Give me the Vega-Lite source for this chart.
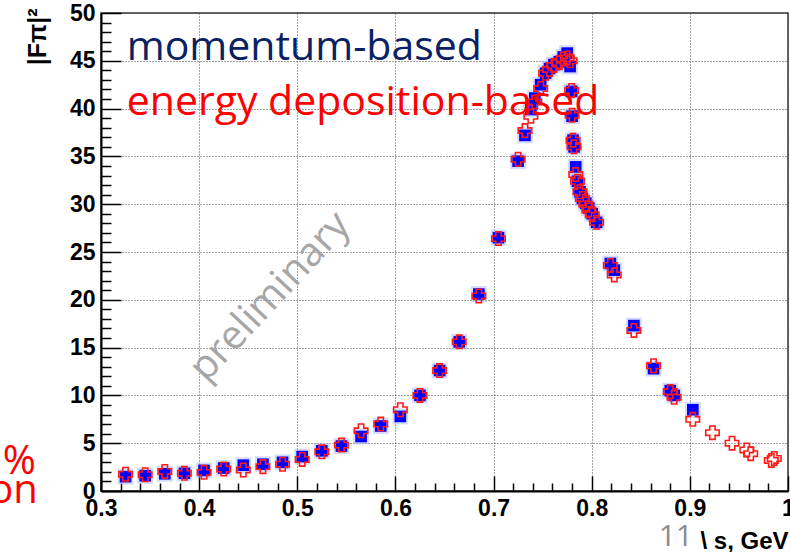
{
  "$schema": "https://vega.github.io/schema/vega-lite/v6.json",
  "width": 687,
  "height": 478,
  "autosize": {"type": "none"},
  "padding": {"left": 101, "top": 13, "right": 2, "bottom": 61},
  "background": "white",
  "config": {"view": {"stroke": "#333333", "strokeWidth": 1.5}},
  "datasets": {
    "points": [
      {"s": 0.325, "F2": 1.5, "method": "momentum"},
      {"s": 0.345, "F2": 1.6, "method": "momentum"},
      {"s": 0.365, "F2": 1.8, "method": "momentum"},
      {"s": 0.385, "F2": 1.85, "method": "momentum"},
      {"s": 0.405, "F2": 2.15, "method": "momentum"},
      {"s": 0.425, "F2": 2.4, "method": "momentum"},
      {"s": 0.445, "F2": 2.7, "method": "momentum"},
      {"s": 0.465, "F2": 2.8, "method": "momentum"},
      {"s": 0.485, "F2": 3.0, "method": "momentum"},
      {"s": 0.505, "F2": 3.6, "method": "momentum"},
      {"s": 0.525, "F2": 4.2, "method": "momentum"},
      {"s": 0.545, "F2": 4.7, "method": "momentum"},
      {"s": 0.565, "F2": 5.7, "method": "momentum"},
      {"s": 0.585, "F2": 6.8, "method": "momentum"},
      {"s": 0.605, "F2": 7.8, "method": "momentum"},
      {"s": 0.625, "F2": 10.0, "method": "momentum"},
      {"s": 0.645, "F2": 12.6, "method": "momentum"},
      {"s": 0.665, "F2": 15.6, "method": "momentum"},
      {"s": 0.685, "F2": 20.6, "method": "momentum"},
      {"s": 0.705, "F2": 26.5, "method": "momentum"},
      {"s": 0.725, "F2": 34.5, "method": "momentum"},
      {"s": 0.732, "F2": 37.2, "method": "momentum"},
      {"s": 0.738, "F2": 39.9, "method": "momentum"},
      {"s": 0.742, "F2": 41.1, "method": "momentum"},
      {"s": 0.748, "F2": 42.5, "method": "momentum"},
      {"s": 0.753, "F2": 43.7, "method": "momentum"},
      {"s": 0.757, "F2": 44.2, "method": "momentum"},
      {"s": 0.7615, "F2": 44.6, "method": "momentum"},
      {"s": 0.767, "F2": 44.9, "method": "momentum"},
      {"s": 0.771, "F2": 45.4, "method": "momentum"},
      {"s": 0.775, "F2": 45.8, "method": "momentum"},
      {"s": 0.778, "F2": 44.4, "method": "momentum"},
      {"s": 0.7795, "F2": 41.8, "method": "momentum"},
      {"s": 0.78, "F2": 39.2, "method": "momentum"},
      {"s": 0.781, "F2": 36.7, "method": "momentum"},
      {"s": 0.782, "F2": 36.0, "method": "momentum"},
      {"s": 0.7837, "F2": 33.9, "method": "momentum"},
      {"s": 0.7855, "F2": 32.4, "method": "momentum"},
      {"s": 0.788, "F2": 31.3, "method": "momentum"},
      {"s": 0.7905, "F2": 30.6, "method": "momentum"},
      {"s": 0.794, "F2": 30.1, "method": "momentum"},
      {"s": 0.797, "F2": 29.6, "method": "momentum"},
      {"s": 0.8005, "F2": 29.0, "method": "momentum"},
      {"s": 0.805, "F2": 28.1, "method": "momentum"},
      {"s": 0.819, "F2": 23.8, "method": "momentum"},
      {"s": 0.823, "F2": 23.1, "method": "momentum"},
      {"s": 0.843, "F2": 17.3, "method": "momentum"},
      {"s": 0.863, "F2": 12.8, "method": "momentum"},
      {"s": 0.88, "F2": 10.5, "method": "momentum"},
      {"s": 0.884, "F2": 10.0, "method": "momentum"},
      {"s": 0.903, "F2": 8.5, "method": "momentum"},
      {"s": 0.325, "F2": 1.75, "method": "edep"},
      {"s": 0.345, "F2": 1.7, "method": "edep"},
      {"s": 0.365, "F2": 2.05, "method": "edep"},
      {"s": 0.385, "F2": 1.85, "method": "edep"},
      {"s": 0.405, "F2": 1.95, "method": "edep"},
      {"s": 0.425, "F2": 2.3, "method": "edep"},
      {"s": 0.445, "F2": 2.2, "method": "edep"},
      {"s": 0.465, "F2": 2.55, "method": "edep"},
      {"s": 0.485, "F2": 2.8, "method": "edep"},
      {"s": 0.505, "F2": 3.3, "method": "edep"},
      {"s": 0.525, "F2": 4.1, "method": "edep"},
      {"s": 0.545, "F2": 4.8, "method": "edep"},
      {"s": 0.565, "F2": 6.3, "method": "edep"},
      {"s": 0.585, "F2": 7.0, "method": "edep"},
      {"s": 0.605, "F2": 8.5, "method": "edep"},
      {"s": 0.625, "F2": 10.0, "method": "edep"},
      {"s": 0.645, "F2": 12.6, "method": "edep"},
      {"s": 0.665, "F2": 15.6, "method": "edep"},
      {"s": 0.685, "F2": 20.4, "method": "edep"},
      {"s": 0.705, "F2": 26.4, "method": "edep"},
      {"s": 0.725, "F2": 34.7, "method": "edep"},
      {"s": 0.732, "F2": 37.7, "method": "edep"},
      {"s": 0.738, "F2": 39.2, "method": "edep"},
      {"s": 0.742, "F2": 40.7, "method": "edep"},
      {"s": 0.748, "F2": 42.1, "method": "edep"},
      {"s": 0.753, "F2": 43.7, "method": "edep"},
      {"s": 0.757, "F2": 44.1, "method": "edep"},
      {"s": 0.7615, "F2": 44.5, "method": "edep"},
      {"s": 0.767, "F2": 44.8, "method": "edep"},
      {"s": 0.771, "F2": 45.2, "method": "edep"},
      {"s": 0.775, "F2": 45.3, "method": "edep"},
      {"s": 0.778, "F2": 45.0, "method": "edep"},
      {"s": 0.7795, "F2": 41.9, "method": "edep"},
      {"s": 0.78, "F2": 39.3, "method": "edep"},
      {"s": 0.781, "F2": 36.7, "method": "edep"},
      {"s": 0.782, "F2": 36.0, "method": "edep"},
      {"s": 0.7837, "F2": 33.1, "method": "edep"},
      {"s": 0.7855, "F2": 32.4, "method": "edep"},
      {"s": 0.788, "F2": 31.3, "method": "edep"},
      {"s": 0.7905, "F2": 30.6, "method": "edep"},
      {"s": 0.794, "F2": 30.0, "method": "edep"},
      {"s": 0.797, "F2": 29.4, "method": "edep"},
      {"s": 0.8005, "F2": 28.9, "method": "edep"},
      {"s": 0.805, "F2": 28.1, "method": "edep"},
      {"s": 0.819, "F2": 23.6, "method": "edep"},
      {"s": 0.823, "F2": 22.6, "method": "edep"},
      {"s": 0.843, "F2": 16.8, "method": "edep"},
      {"s": 0.863, "F2": 13.1, "method": "edep"},
      {"s": 0.88, "F2": 10.4, "method": "edep"},
      {"s": 0.884, "F2": 9.8, "method": "edep"},
      {"s": 0.903, "F2": 7.5, "method": "edep"},
      {"s": 0.923, "F2": 6.1, "method": "edep"},
      {"s": 0.943, "F2": 5.0, "method": "edep"},
      {"s": 0.958, "F2": 4.3, "method": "edep"},
      {"s": 0.962, "F2": 3.9, "method": "edep"},
      {"s": 0.983, "F2": 3.2, "method": "edep"},
      {"s": 0.986, "F2": 3.4, "method": "edep"}
    ]
  },
  "encoding": {
    "x": {
      "field": "s",
      "type": "quantitative",
      "scale": {"domain": [0.3, 1.0], "nice": false, "zero": false},
      "axis": {
        "values": [0.3, 0.32, 0.34, 0.36, 0.38, 0.4, 0.42, 0.44, 0.46, 0.48, 0.5, 0.52, 0.54, 0.56, 0.58, 0.6, 0.62, 0.64, 0.66, 0.68, 0.7, 0.72, 0.74, 0.76, 0.78, 0.8, 0.82, 0.84, 0.86, 0.88, 0.9, 0.92, 0.94, 0.96, 0.98, 1.0],
        "labelExpr": "abs(datum.value * 10 - round(datum.value * 10)) < 0.001 ? format(datum.value, '.1~f') : ''",
        "labelFont": "Liberation Sans",
        "labelFontWeight": "bold",
        "labelFontSize": 23,
        "labelColor": "black",
        "labelPadding": 21,
        "labelFlush": false,
        "labelOverlap": false,
        "labelBound": false,
        "domainColor": "black",
        "domainWidth": 2,
        "tickColor": "black",
        "tickWidth": 1.5,
        "tickSize": {"condition": {"test": "abs(datum.value * 10 - round(datum.value * 10)) < 0.001", "value": -15}, "value": -8},
        "grid": true,
        "gridColor": "#444444",
        "gridDash": [1, 2],
        "gridWidth": 1,
        "gridOpacity": {"condition": {"test": "abs(datum.value * 10 - round(datum.value * 10)) < 0.001", "value": 1}, "value": 0},
        "title": "\\ s, GeV",
        "titleFont": "Liberation Sans",
        "titleFontWeight": "bold",
        "titleFontSize": 24,
        "titleColor": "black",
        "titleAlign": "right",
        "titleBaseline": "alphabetic",
        "titleX": 687,
        "titleY": 57
      }
    },
    "y": {
      "field": "F2",
      "type": "quantitative",
      "scale": {"domain": [0, 50], "nice": false, "zero": false},
      "axis": {
        "values": [0, 1, 2, 3, 4, 5, 6, 7, 8, 9, 10, 11, 12, 13, 14, 15, 16, 17, 18, 19, 20, 21, 22, 23, 24, 25, 26, 27, 28, 29, 30, 31, 32, 33, 34, 35, 36, 37, 38, 39, 40, 41, 42, 43, 44, 45, 46, 47, 48, 49, 50],
        "labelExpr": "datum.value % 5 === 0 ? format(datum.value, 'd') : ''",
        "labelFont": "Liberation Sans",
        "labelFontWeight": "bold",
        "labelFontSize": 23,
        "labelColor": "black",
        "labelPadding": 26,
        "labelFlush": false,
        "labelOverlap": false,
        "labelBound": false,
        "domainColor": "black",
        "domainWidth": 2,
        "tickColor": "black",
        "tickWidth": 1.5,
        "tickSize": {"condition": {"test": "datum.value % 5 === 0", "value": -20}, "value": -10},
        "grid": true,
        "gridColor": "#444444",
        "gridDash": [1, 2],
        "gridWidth": 1,
        "gridOpacity": {"condition": {"test": "datum.value % 5 === 0", "value": 1}, "value": 0},
        "title": "|Fπ|²",
        "titleFont": "Liberation Sans",
        "titleFontWeight": "bold",
        "titleFontSize": 25,
        "titleColor": "black",
        "titleAngle": -90,
        "titleAlign": "right",
        "titleBaseline": "alphabetic",
        "titleX": -56,
        "titleY": -5
      }
    }
  },
  "layer": [
    {
      "data": {"name": "points"},
      "transform": [{"filter": "datum.method === 'momentum'"}],
      "mark": {"type": "point", "shape": "square", "filled": true, "size": 250, "color": "#9fb0ff", "opacity": 0.45}
    },
    {
      "data": {"name": "points"},
      "transform": [{"filter": "datum.method === 'momentum'"}],
      "mark": {"type": "point", "shape": "square", "filled": true, "size": 135, "color": "#0000ff", "opacity": 1}
    },
    {
      "data": {"name": "points"},
      "transform": [{"filter": "datum.method === 'edep'"}],
      "mark": {"type": "point", "shape": "cross", "filled": false, "size": 180, "stroke": "#ff1a1a", "strokeWidth": 1.6, "opacity": 1}
    },
    {
      "data": {"values": [{"s": 0.3262, "F2": 45.08, "label": "momentum-based"}]},
      "mark": {"type": "text", "align": "left", "baseline": "alphabetic", "font": "Open Sans", "fontSize": 41, "color": "#0a2263"},
      "encoding": {"text": {"field": "label"}}
    },
    {
      "data": {"values": [{"s": 0.3262, "F2": 39.33, "label": "energy deposition-based"}]},
      "mark": {"type": "text", "align": "left", "baseline": "alphabetic", "font": "Open Sans", "fontSize": 41, "color": "#ff0000"},
      "encoding": {"text": {"field": "label"}}
    },
    {
      "data": {"values": [{"s": 0.4724, "F2": 20.3, "label": "preliminary"}]},
      "mark": {"type": "text", "align": "center", "baseline": "middle", "font": "Open Sans", "fontSize": 40, "angle": 313, "color": "#a6a6a6"},
      "encoding": {"text": {"field": "label"}}
    },
    {
      "data": {"values": [{"s": 0.8857, "F2": -5.75, "label": "11"}]},
      "mark": {"type": "text", "align": "center", "baseline": "alphabetic", "font": "Open Sans", "fontSize": 30, "color": "#8c8c8c"},
      "encoding": {"text": {"field": "label"}}
    },
    {
      "data": {"values": [{"s": 0.2337, "F2": 1.78, "label": "%"}, {"s": 0.2357, "F2": -1.26, "label": "on"}]},
      "mark": {"type": "text", "align": "right", "baseline": "alphabetic", "font": "Open Sans", "fontSize": 40, "color": "#ff0000"},
      "encoding": {"text": {"field": "label"}}
    }
  ]
}
